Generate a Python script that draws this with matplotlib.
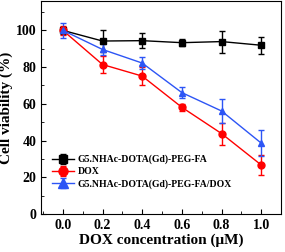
import matplotlib
matplotlib.use("Agg")
import matplotlib.pyplot as plt
from matplotlib.ticker import MultipleLocator

plt.rcParams['font.family'] = ['Liberation Serif', 'DejaVu Serif']
plt.rcParams['font.weight'] = 'bold'

conc = [0.0, 0.2, 0.4, 0.6, 0.8, 1.0]

fa = [100, 94.2, 94.4, 93.3, 93.9, 91.9]
fa_err = [2.0, 5.8, 4.0, 2.0, 6.0, 4.6]

dox = [100, 81.4, 75.1, 58.1, 43.8, 26.7]
dox_err = [2.5, 4.5, 5.0, 2.0, 6.0, 5.6]

fa_dox = [100, 89.6, 82.2, 66.1, 56.1, 38.6]
fa_dox_err = [4.0, 3.0, 3.5, 3.0, 6.5, 7.0]

labels = ["G5.NHAc-DOTA(Gd)-PEG-FA", "DOX", "G5.NHAc-DOTA(Gd)-PEG-FA/DOX"]

fig = plt.figure(figsize=(2.85, 2.52), dpi=100)
ax = fig.add_axes([0.144, 0.151, 0.842, 0.845])

ax.errorbar(conc, fa, yerr=fa_err, color='black', marker='s', ms=4.5,
            lw=1, capsize=2, elinewidth=1, label=labels[0])
ax.errorbar(conc, dox, yerr=dox_err, color='red', marker='o', ms=5,
            lw=1, capsize=2, elinewidth=1, label=labels[1])
ax.errorbar(conc, fa_dox, yerr=fa_dox_err, color='#2d55f5', marker='^', ms=5,
            lw=1, capsize=2, elinewidth=1, label=labels[2])

ax.set_xlim(-0.11, 1.1)
ax.set_ylim(0, 116)
ax.xaxis.set_major_locator(MultipleLocator(0.2))
ax.xaxis.set_minor_locator(MultipleLocator(0.1))
ax.yaxis.set_major_locator(MultipleLocator(20))
ax.yaxis.set_minor_locator(MultipleLocator(10))
ax.tick_params(which='both', direction='in', labelsize=10)
ax.tick_params(which='major', length=3.5)
ax.tick_params(which='minor', length=2)

ax.set_xlabel("DOX concentration (μM)", fontsize=11, fontweight='bold', labelpad=1)
ax.set_ylabel("Cell viability (%)", fontsize=11, fontweight='bold', labelpad=2)

for lbl in ax.get_xticklabels() + ax.get_yticklabels():
    lbl.set_fontweight('bold')

ax.legend(loc='lower left', bbox_to_anchor=(0.03, 0.1), frameon=False,
          fontsize=7, handlelength=2.2, handletextpad=0.4, labelspacing=0.3,
          borderaxespad=0, markerscale=1.3)

fig.savefig("out.png", dpi=100)
